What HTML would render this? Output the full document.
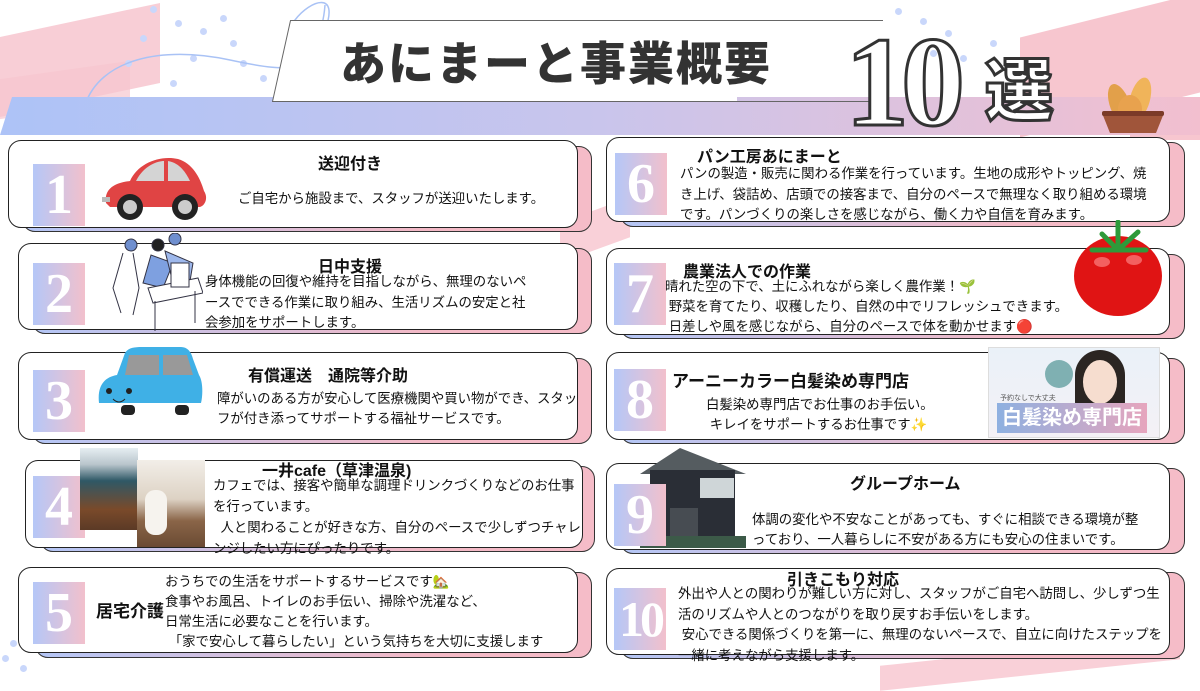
<!DOCTYPE html>
<html><head><meta charset="utf-8"><style>
*{margin:0;padding:0;box-sizing:border-box}
body{width:1200px;height:675px;position:relative;overflow:hidden;background:#fff;font-family:"Liberation Sans","Noto Sans CJK JP",sans-serif;color:#111}
.a{position:absolute}
.sh{position:absolute;border:1.5px solid #333;border-radius:13px;background:linear-gradient(90deg,#b4c6f6,#f3b9c6 70%,#f5bcc8)}
.cd{position:absolute;border:1.5px solid #222;border-radius:13px;background:#fff}
.nb{position:absolute;width:52px;height:62px;background:linear-gradient(90deg,#b5c7f7,#f2c0cc);color:#fff;font-family:"Liberation Serif",serif;font-weight:bold;font-size:56px;line-height:62px;text-align:center}
.t{position:absolute;font-weight:bold;font-size:16px;white-space:nowrap;color:#111}
.d{position:absolute;font-size:13.4px;line-height:20px;white-space:nowrap;color:#111}
.dot{position:absolute;width:7px;height:7px;border-radius:50%;background:#c9d7fb}
</style></head><body>
<div class="a" style="left:0;top:20px;width:160px;height:80px;background:#f7c6cf;transform:skewY(-12deg);opacity:.85"></div>
<div class="a" style="left:0;top:70px;width:130px;height:40px;background:#f7c6cf;transform:skewY(-8deg);opacity:.7"></div>
<div class="a" style="left:1020px;top:15px;width:180px;height:100px;background:#f7c6cf;transform:skewY(-14deg)"></div>
<div class="a" style="left:1130px;top:110px;width:70px;height:30px;background:#f7c6cf"></div>
<div class="a" style="left:560px;top:210px;width:70px;height:40px;background:#f9d0d8;transform:skewY(-20deg)"></div>
<div class="a" style="left:880px;top:650px;width:300px;height:25px;background:#f9d0d8;transform:skewY(-6deg)"></div>
<div class="dot" style="left:150px;top:6px"></div><div class="dot" style="left:175px;top:20px"></div><div class="dot" style="left:140px;top:35px"></div><div class="dot" style="left:200px;top:28px"></div><div class="dot" style="left:220px;top:15px"></div><div class="dot" style="left:230px;top:40px"></div><div class="dot" style="left:190px;top:55px"></div><div class="dot" style="left:240px;top:60px"></div><div class="dot" style="left:125px;top:60px"></div><div class="dot" style="left:260px;top:75px"></div><div class="dot" style="left:170px;top:80px"></div>
<div class="dot" style="left:895px;top:8px"></div><div class="dot" style="left:920px;top:18px"></div><div class="dot" style="left:945px;top:30px"></div><div class="dot" style="left:930px;top:50px"></div><div class="dot" style="left:960px;top:55px"></div><div class="dot" style="left:990px;top:40px"></div>
<div class="dot" style="left:2px;top:655px"></div><div class="dot" style="left:20px;top:665px"></div><div class="dot" style="left:10px;top:640px"></div>
<svg class="a" style="left:80px;top:0" width="260" height="110"><path d="M5 105 C20 60 80 45 150 60 S230 70 245 30 S230 0 215 20 S240 70 245 5" fill="none" stroke="#a9c2f5" stroke-width="1.5"/></svg>
<div class="a" style="left:0;top:97px;width:1200px;height:38px;background:linear-gradient(90deg,#adc3f7,#c9c5ec 50%,#f2bfcf);clip-path:polygon(12px 0,100% 0,100% 100%,0 100%)"></div>
<div class="a" style="left:272px;top:20px;width:465px;height:82px;"><svg width="465" height="82"><polygon points="18.5,0.5 464.5,0.5 464.5,81.5 0.5,81.5" fill="#fff" stroke="#666"/><rect x="460" y="1" width="6" height="80" fill="#fff"/></svg></div>
<div class="a" style="left:733px;top:20px;width:150px;height:1px;background:#666"></div>
<div class="a" style="left:735px;top:101px;width:140px;height:1px;background:#666"></div>
<div class="a" style="left:340px;top:28px;font-size:46px;font-weight:900;color:#333;letter-spacing:2px;white-space:nowrap">あにまーと事業概要</div>
<div class="a" style="left:845px;top:12px;font-family:'Liberation Serif',serif;font-size:128px;font-weight:bold;color:#fff;-webkit-text-stroke:3px #333;line-height:140px;letter-spacing:-8px">10</div>
<div class="a" style="left:985px;top:52px;font-size:68px;font-weight:900;color:#fff;-webkit-text-stroke:3px #333;line-height:80px">選</div>
<svg class="a" style="left:1098px;top:75px" width="70" height="62"><ellipse cx="22" cy="30" rx="10" ry="22" fill="#e2a04a" transform="rotate(-20 22 30)"/><ellipse cx="42" cy="24" rx="10" ry="22" fill="#f0b45a" transform="rotate(15 42 24)"/><ellipse cx="32" cy="34" rx="12" ry="14" fill="#e8a24e"/><path d="M4 38 H66 L58 58 H12 Z" fill="#a0553a"/><rect x="4" y="36" width="62" height="5" rx="2" fill="#7b3a28"/></svg>

<div class="sh" style="left:22px;top:146px;width:570px;height:86px"></div>
<div class="cd" style="left:8px;top:140px;width:570px;height:88px"></div>
<div class="nb" style="left:33px;top:164px">1</div>
<svg class="a" style="left:100px;top:153px" width="112" height="70"><path d="M6 50 C4 36 14 30 30 28 C38 10 60 2 78 6 C92 10 100 24 104 38 C108 44 106 52 100 54 H10 Z" fill="#e04444"/><path d="M36 28 C44 12 58 8 64 8 V28 Z" fill="#d4d4d4"/><path d="M68 8 C80 10 86 20 90 28 H68 Z" fill="#d4d4d4"/><circle cx="30" cy="54" r="13" fill="#222"/><circle cx="30" cy="54" r="7" fill="#ccc"/><circle cx="85" cy="54" r="13" fill="#222"/><circle cx="85" cy="54" r="7" fill="#ccc"/><rect x="2" y="44" width="8" height="5" fill="#bbb"/></svg>
<div class="t" style="left:318px;top:150px">送迎付き</div>
<div class="d" style="left:238px;top:189px">ご自宅から施設まで、スタッフが送迎いたします。</div>

<div class="sh" style="left:32px;top:248px;width:560px;height:86px"></div>
<div class="cd" style="left:18px;top:243px;width:560px;height:87px"></div>
<div class="nb" style="left:33px;top:263px">2</div>
<svg class="a" style="left:103px;top:233px" width="100" height="100" fill="none" stroke="#334" stroke-width="1"><circle cx="28" cy="12" r="6" fill="#6f8fcf"/><circle cx="55" cy="12" r="6" fill="#222"/><circle cx="72" cy="6" r="6" fill="#6f8fcf"/><path d="M20 20 L10 55 L18 80 M30 20 L36 55 L30 82" /><path d="M48 22 L40 50 L60 55 L70 30 Z" fill="#7ea0e0"/><path d="M62 18 L90 30 L85 60 L70 50 Z" fill="#9eb8ec"/><path d="M45 55 L95 45 L100 60 L50 70 Z" fill="#fff"/><path d="M52 68 V98 M92 58 V90"/><rect x="68" y="30" width="18" height="24" fill="#fff"/></svg>
<div class="t" style="left:318px;top:253px">日中支援</div>
<div class="d" style="left:205px;top:272px;line-height:20.5px">身体機能の回復や維持を目指しながら、無理のないペ<br>ースでできる作業に取り組み、生活リズムの安定と社<br>会参加をサポートします。</div>

<div class="sh" style="left:32px;top:358px;width:560px;height:86px"></div>
<div class="cd" style="left:18px;top:352px;width:560px;height:88px"></div>
<div class="nb" style="left:33px;top:370px">3</div>
<svg class="a" style="left:95px;top:345px" width="108" height="72"><path d="M4 58 C2 40 10 32 22 30 L30 8 C34 2 40 2 50 2 H86 C92 2 96 6 98 14 L104 30 C108 36 108 50 106 58 Z" fill="#3fb0e6"/><path d="M34 10 L30 30 H64 V10 Z" fill="#999"/><path d="M68 10 V30 H98 L92 10 Z" fill="#999"/><circle cx="14" cy="46" r="3" fill="#222"/><circle cx="34" cy="46" r="3" fill="#222"/><path d="M18 54 Q24 60 30 54" stroke="#222" fill="none"/><rect x="26" y="60" width="14" height="10" rx="4" fill="#222"/><rect x="80" y="60" width="14" height="10" rx="4" fill="#222"/></svg>
<div class="t" style="left:248px;top:362px">有償運送　通院等介助</div>
<div class="d" style="left:217px;top:389px">障がいのある方が安心して医療機関や買い物ができ、スタッ<br>フが付き添ってサポートする福祉サービスです。</div>

<div class="sh" style="left:40px;top:466px;width:555px;height:86px"></div>
<div class="cd" style="left:25px;top:460px;width:558px;height:88px"></div>
<div class="nb" style="left:33px;top:476px">4</div>
<div class="a" style="left:80px;top:448px;width:58px;height:82px;background:linear-gradient(180deg,#e6eef2 0,#b9c5cc 20%,#2f5866 40%,#7a4a2a 75%,#5b3a26)"></div>
<div class="a" style="left:137px;top:460px;width:68px;height:87px;background:linear-gradient(180deg,#f2eee8,#ddd2c4 45%,#8a6548 70%,#6a4a33)"></div>
<div class="a" style="left:145px;top:490px;width:22px;height:45px;border-radius:10px;background:#f6f3ee"></div>
<div class="t" style="left:262px;top:457px">一井cafe（草津温泉)</div>
<div class="d" style="left:213px;top:475px;line-height:21px">カフェでは、接客や簡単な調理ドリンクづくりなどのお仕事<br>を行っています。<br>&nbsp;&nbsp;人と関わることが好きな方、自分のペースで少しずつチャレ<br>ンジしたい方にぴったりです。</div>

<div class="sh" style="left:35px;top:572px;width:557px;height:86px"></div>
<div class="cd" style="left:18px;top:567px;width:560px;height:86px"></div>
<div class="nb" style="left:33px;top:582px">5</div>
<div class="t" style="left:96px;top:597px;font-size:17px">居宅介護</div>
<div class="d" style="left:165px;top:572px;line-height:20px">おうちでの生活をサポートするサービスです🏡<br>食事やお風呂、トイレのお手伝い、掃除や洗濯など、<br>日常生活に必要なことを行います。<br>&nbsp;「家で安心して暮らしたい」という気持ちを大切に支援します</div>

<div class="sh" style="left:620px;top:142px;width:565px;height:85px"></div>
<div class="cd" style="left:606px;top:137px;width:564px;height:85px"></div>
<div class="nb" style="left:615px;top:153px;width:52px">6</div>
<div class="t" style="left:697px;top:143px">パン工房あにまーと</div>
<div class="d" style="left:680px;top:164px;line-height:20.5px">パンの製造・販売に関わる作業を行っています。生地の成形やトッピング、焼<br>き上げ、袋詰め、店頭での接客まで、自分のペースで無理なく取り組める環境<br>です。パンづくりの楽しさを感じながら、働く力や自信を育みます。</div>

<div class="sh" style="left:620px;top:254px;width:565px;height:85px"></div>
<div class="cd" style="left:606px;top:248px;width:564px;height:87px"></div>
<div class="nb" style="left:614px;top:263px;width:52px">7</div>
<div class="t" style="left:683px;top:258px">農業法人での作業</div>
<div class="d" style="left:665px;top:277px;line-height:20px">晴れた空の下で、土にふれながら楽しく農作業！🌱<br>&nbsp;野菜を育てたり、収穫したり、自然の中でリフレッシュできます。<br>&nbsp;日差しや風を感じながら、自分のペースで体を動かせます🔴</div>
<svg class="a" style="left:1072px;top:220px" width="92" height="100"><ellipse cx="46" cy="56" rx="44" ry="40" fill="#e01414"/><ellipse cx="30" cy="42" rx="8" ry="5" fill="#f36060"/><ellipse cx="62" cy="40" rx="8" ry="5" fill="#f36060"/><path d="M46 30 L30 14 M46 30 L66 12 M46 30 L20 30 M46 30 L74 30 M46 30 L46 2" stroke="#2e9a3a" stroke-width="5" stroke-linecap="round"/></svg>

<div class="sh" style="left:620px;top:358px;width:565px;height:86px"></div>
<div class="cd" style="left:606px;top:352px;width:564px;height:88px"></div>
<div class="nb" style="left:614px;top:369px;width:52px">8</div>
<div class="t" style="left:672px;top:367px;font-size:17px">アーニーカラー白髪染め専門店</div>
<div class="d" style="left:706px;top:395px;line-height:20px">白髪染め専門店でお仕事のお手伝い。<br>&nbsp;キレイをサポートするお仕事です✨</div>
<div class="a" style="left:988px;top:347px;width:172px;height:91px;background:linear-gradient(180deg,#eaf1f8,#f4f1f6);border:1px solid #ddd"></div>
<div class="a" style="left:1075px;top:350px;width:50px;height:60px;border-radius:25px 25px 8px 8px;background:#2b2522"></div>
<div class="a" style="left:1083px;top:360px;width:34px;height:44px;border-radius:50%;background:#f6ddcf"></div>
<div class="a" style="left:1045px;top:360px;width:28px;height:28px;border-radius:50%;background:#7fb0b2"></div>
<div class="a" style="left:997px;top:403px;width:150px;height:30px;background:linear-gradient(90deg,#8eb0e0,#e6a5bd);color:#fff;font-weight:bold;font-size:20px;line-height:30px;text-align:center">白髪染め専門店</div>
<div class="a" style="left:1000px;top:393px;font-size:7px;color:#555">予約なしで大丈夫</div>

<div class="sh" style="left:620px;top:468px;width:565px;height:86px"></div>
<div class="cd" style="left:606px;top:463px;width:564px;height:87px"></div>
<svg class="a" style="left:640px;top:448px" width="106" height="100"><polygon points="0,26 40,0 106,26" fill="#555c60"/><rect x="10" y="22" width="85" height="74" fill="#2a2e36"/><rect x="60" y="30" width="34" height="20" fill="#cfd6d8"/><rect x="30" y="60" width="28" height="30" fill="#474c52"/><rect x="0" y="88" width="106" height="12" fill="#3c5a48"/></svg>
<div class="nb" style="left:614px;top:484px;width:52px">9</div>
<div class="t" style="left:850px;top:470px">グループホーム</div>
<div class="d" style="left:752px;top:510px">体調の変化や不安なことがあっても、すぐに相談できる環境が整<br>っており、一人暮らしに不安がある方にも安心の住まいです。</div>

<div class="sh" style="left:620px;top:572px;width:565px;height:87px"></div>
<div class="cd" style="left:606px;top:568px;width:564px;height:87px"></div>
<div class="nb" style="left:614px;top:588px;width:52px;font-size:50px;letter-spacing:-4px">10</div>
<div class="t" style="left:787px;top:566px">引きこもり対応</div>
<div class="d" style="left:678px;top:584px;line-height:20.5px">外出や人との関わりが難しい方に対し、スタッフがご自宅へ訪問し、少しずつ生<br>活のリズムや人とのつながりを取り戻すお手伝いをします。<br>&nbsp;安心できる関係づくりを第一に、無理のないペースで、自立に向けたステップを<br>一緒に考えながら支援します。</div>
</body></html>
